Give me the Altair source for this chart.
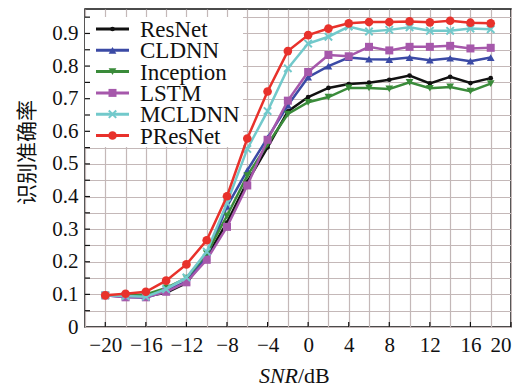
import altair as alt
import pandas as pd

snr = list(range(-20, 20, 2))
names = ["ResNet", "CLDNN", "Inception", "LSTM", "MCLDNN", "PResNet"]

resnet = [0.097, 0.095, 0.094, 0.105, 0.135, 0.215, 0.320, 0.445, 0.551, 0.661,
          0.705, 0.733, 0.745, 0.749, 0.758, 0.771, 0.747, 0.767, 0.748, 0.763]
cldnn = [0.097, 0.092, 0.090, 0.110, 0.140, 0.215, 0.370, 0.480, 0.580, 0.680,
         0.766, 0.800, 0.826, 0.821, 0.820, 0.826, 0.818, 0.824, 0.815, 0.826]
inception = [0.097, 0.097, 0.100, 0.120, 0.150, 0.225, 0.341, 0.464, 0.560, 0.653,
             0.689, 0.705, 0.733, 0.733, 0.730, 0.750, 0.732, 0.736, 0.723, 0.746]
lstm = [0.097, 0.091, 0.091, 0.108, 0.137, 0.206, 0.307, 0.434, 0.574, 0.694,
        0.782, 0.834, 0.830, 0.859, 0.848, 0.859, 0.859, 0.862, 0.854, 0.856]
mcldnn = [0.097, 0.095, 0.093, 0.116, 0.152, 0.231, 0.380, 0.546, 0.662, 0.793,
          0.869, 0.890, 0.921, 0.906, 0.911, 0.919, 0.908, 0.908, 0.915, 0.913]
presnet = [0.097, 0.102, 0.108, 0.142, 0.192, 0.266, 0.401, 0.578, 0.722, 0.846,
           0.895, 0.915, 0.931, 0.935, 0.935, 0.937, 0.934, 0.939, 0.933, 0.931]

values = [resnet, cldnn, inception, lstm, mcldnn, presnet]
colors = ["#111111", "#3b4aa5", "#3a8b3a", "#a658ab", "#72c9cb", "#e8312b"]
shapes = ["circle", "triangle-up", "triangle-down", "square",
          "M-1,-1L1,1M-1,1L1,-1", "circle"]
sizes = [22, 60, 60, 64, 55, 75]
filled = [True, True, True, True, False, True]

x_ticks = [-20, -16, -12, -8, -4, 0, 4, 8, 12, 16, 20]
x_grid = list(range(-22, 21, 2))
y_grid = [round(i * 0.05, 2) for i in range(0, 20)]

W, H = 426, 318
SERIF = "Liberation Serif"
CJK = "Noto Sans CJK SC"

xscale = alt.Scale(domain=[-22, 20], nice=False, zero=False)
yscale = alt.Scale(domain=[0, 0.975], nice=False, zero=False)

xaxis = alt.Axis(values=x_grid, title=None, grid=True, ticks=False, tickSize=0,
                 domain=False, labelFont=SERIF, labelFontSize=21, labelColor="#111",
                 labelPadding=7,
                 labelExpr="datum.value % 4 == 0 ? datum.label : ''",
                 gridColor="#c4b8b8", gridWidth=1.2, gridOpacity=1)
yaxis = alt.Axis(values=y_grid, title="识别准确率", grid=True, ticks=False, tickSize=0,
                 domain=False, labelFont=SERIF, labelFontSize=21, labelColor="#111",
                 labelPadding=7,
                 labelExpr="round(datum.value * 100) % 10 == 0 ? format(datum.value, '~g') : ''",
                 titleFont=CJK, titleFontSize=21, titleFontWeight="normal",
                 titleColor="#111", titleX=-48, titleY=143,
                 gridColor="#c4b8b8", gridWidth=1.2, gridOpacity=1)

rows = []
for name, vals in zip(names, values):
    for s, v in zip(snr, vals):
        rows.append({"series": name, "snr": s, "acc": v})
df = pd.DataFrame(rows)

X = alt.X("snr:Q", scale=xscale, axis=xaxis)
Y = alt.Y("acc:Q", scale=yscale, axis=yaxis)

layers = []
for name, c, shp, sz, fl in zip(names, colors, shapes, sizes, filled):
    d = df[df["series"] == name]
    layers.append(alt.Chart(d).mark_line(color=c, strokeWidth=2.5).encode(x=X, y=Y))
    if fl:
        pm = alt.Chart(d).mark_point(shape=shp, size=sz, filled=True, color=c, opacity=1)
    else:
        pm = alt.Chart(d).mark_point(shape=shp, size=sz, filled=False, color=c,
                                     strokeWidth=2, opacity=1)
    layers.append(pm.encode(x=X, y=Y))

# legend box
one = pd.DataFrame({"a": [0]})
layers.append(alt.Chart(one).mark_rect(color="white").encode(
    x=alt.value(0), x2=alt.value(158), y=alt.value(8), y2=alt.value(138)))
for i, (name, c, shp, sz, fl) in enumerate(zip(names, colors, shapes, sizes, filled)):
    ly = 20 + i * 21.3
    dn = pd.DataFrame({"name": [name]})
    layers.append(alt.Chart(dn).mark_rule(color=c, strokeWidth=3).encode(
        x=alt.value(11), x2=alt.value(44), y=alt.value(ly)))
    if fl:
        pm = alt.Chart(dn).mark_point(shape=shp, size=sz, filled=True, color=c, opacity=1)
    else:
        pm = alt.Chart(dn).mark_point(shape=shp, size=sz, filled=False, color=c,
                                      strokeWidth=2, opacity=1)
    layers.append(pm.encode(x=alt.value(27.5), y=alt.value(ly)))
    layers.append(alt.Chart(dn).mark_text(align="left", baseline="middle", font=SERIF,
                                          fontSize=23, color="#111").encode(
        x=alt.value(55), y=alt.value(ly + 1), text="name:N"))

# inward ticks
xt = pd.DataFrame({"snr": x_ticks})
layers.append(alt.Chart(xt).mark_rule(color="#111", strokeWidth=1.2).encode(
    x=X, y=alt.value(H), y2=alt.value(H - 5)))
yt = pd.DataFrame({"acc": y_grid[1:]})
layers.append(alt.Chart(yt).mark_rule(color="#111", strokeWidth=1.2).encode(
    y=Y, x=alt.value(0), x2=alt.value(5)))

# x title with italic SNR
layers.append(alt.Chart(one).mark_text(align="right", baseline="middle", font=SERIF,
                                       fontSize=22, fontStyle="italic", color="#111",
                                       text="SNR").encode(
    x=alt.value(213), y=alt.value(367)))
layers.append(alt.Chart(one).mark_text(align="left", baseline="middle", font=SERIF,
                                       fontSize=22, color="#111", text="/dB").encode(
    x=alt.value(213), y=alt.value(367)))

chart = alt.layer(*layers).properties(
    width=W, height=H,
    padding={"left": 8, "top": 1, "right": 0, "bottom": 0},
).configure(background="white").configure_view(stroke="#111", strokeWidth=1.5)

chart.save("out.html", embed_options={"renderer": "svg", "actions": False})
